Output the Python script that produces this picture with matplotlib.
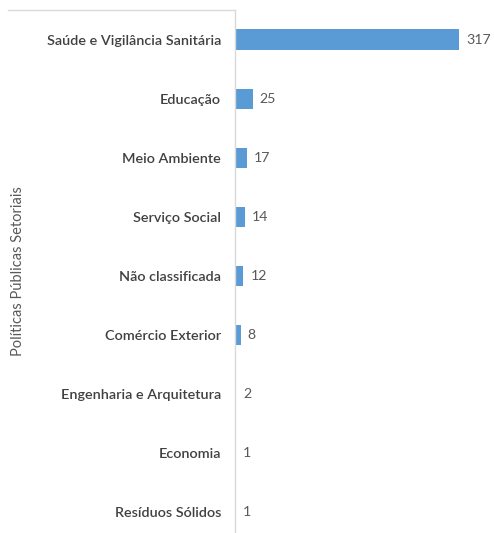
import matplotlib.pyplot as plt
from matplotlib.lines import Line2D

categories = [
    "Saúde e Vigilância Sanitária",
    "Educação",
    "Meio Ambiente",
    "Serviço Social",
    "Não classificada",
    "Comércio Exterior",
    "Engenharia e Arquitetura",
    "Economia",
    "Resíduos Sólidos",
]
counts = [317, 25, 17, 14, 12, 8, 2, 1, 1]

W, H = 494, 533
fig = plt.figure(figsize=(W / 100, H / 100), dpi=100)
ax = fig.add_axes([235 / W, 0, (W - 235) / W, 1 - 10 / H])

pos = list(range(len(categories)))
ax.barh(pos, counts, height=0.34, color="#5b9bd5")
ax.set_ylim(8.36, -0.5)
ax.set_xlim(0, 317 * (W - 235) / 224)

for p, v in zip(pos, counts):
    ax.text(v + 10, p, str(v), va="center", ha="left",
            fontsize=10.2, color="#595959", family="Lato")

ax.set_yticks(pos)
ax.set_yticklabels(categories, fontsize=10.4, color="#404040",
                   family="Lato", fontweight="semibold")
ax.tick_params(axis="y", length=0, pad=10)
ax.set_xticks([])
for side in ["top", "right", "bottom"]:
    ax.spines[side].set_visible(False)
ax.spines["left"].set_color("#d9d9d9")
ax.spines["left"].set_linewidth(1)

fig.text(18 / W, 1 - 271 / H, "Políticas Públicas Setoriais", rotation=90,
         ha="center", va="center", fontsize=10.5, color="#595959", family="Lato")

# thin frame line along the top of the label area
fig.add_artist(Line2D([8 / W, 235 / W], [1 - 10 / H, 1 - 10 / H],
                      color="#d9d9d9", linewidth=1))

fig.savefig("out.png", dpi=100)
